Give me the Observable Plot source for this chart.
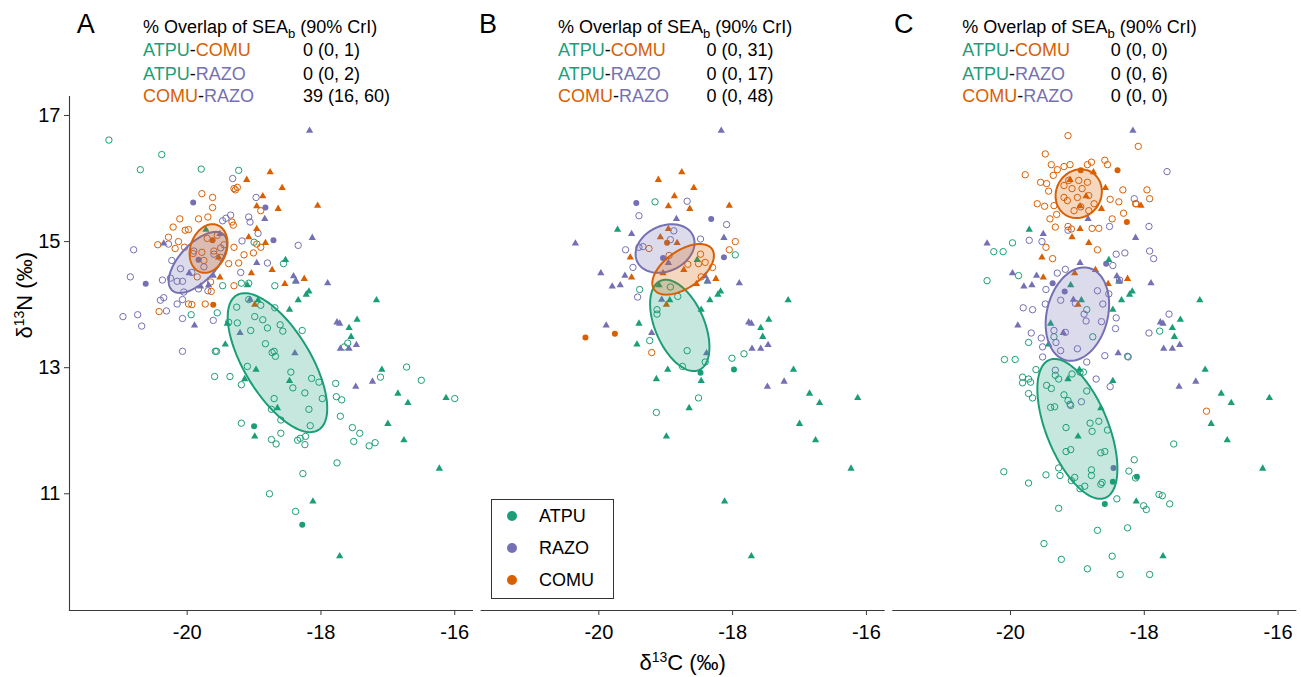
<!DOCTYPE html>
<html><head><meta charset="utf-8">
<script src="https://cdn.jsdelivr.net/npm/d3@7"></script>
<script src="https://cdn.jsdelivr.net/npm/@observablehq/plot@0.6"></script>
<style>
body{margin:0;background:#fff;}
#wrap{position:relative;width:1301px;height:677px;font-family:"Liberation Sans",Arial,Helvetica,sans-serif;}
#legend{position:absolute;left:490.5px;top:499px;width:123px;height:100px;border:1px solid #333;box-sizing:border-box;background:#fff;}
.lg-dot{position:absolute;width:10px;height:10px;border-radius:50%;}
.lg-lab{position:absolute;font-size:18px;line-height:18px;color:#000;}
</style></head><body><div id="wrap"></div>
<script>
// ---------- categories ----------
const panels = ["A", "B", "C"];
const species = ["ATPU", "RAZO", "COMU"];
const speciesColors = ["#1b9e77", "#7570b3", "#d95f02"];

// ---------- overlap annotation ----------
const overlapPairs = ["ATPU-COMU", "ATPU-RAZO", "COMU-RAZO"];
const overlapA = ["0 (0, 1)", "0 (0, 2)", "39 (16, 60)"];
const overlapB = ["0 (0, 31)", "0 (0, 17)", "0 (0, 48)"];
const overlapC = ["0 (0, 0)", "0 (0, 6)", "0 (0, 0)"];
const overlapHeader = "% Overlap of SEAb (90% CrI)";

// ---------- axis ticks ----------
const xTicks = [-20, -18, -16];
const yTicks = [17, 15, 13, 11];
const xTitle = "δ13C (‰)";
const yTitle = "δ13N (‰)";

// ---------- triangles (same in every panel) ----------
const triATPU = [[-19.72,15.19],[-19.40,13.70],[-19.43,13.37],[-19.10,14.31],[-18.53,14.71],[-18.38,14.37],[-18.18,14.21],[-18.22,14.16],[-18.34,14.07],[-18.47,13.92],[-17.17,14.07],[-17.46,13.76],[-17.58,13.63],[-17.55,13.49],[-18.94,14.07],[-18.97,12.97],[-19.14,12.82],[-18.47,12.79],[-17.09,12.97],[-16.85,12.59],[-16.70,12.44],[-16.13,12.52],[-18.65,12.36],[-17.00,12.11],[-16.76,11.85],[-18.99,11.91],[-16.23,11.40],[-18.12,10.88],[-17.72,10.01]];
const triRAZO = [[-18.17,16.76],[-18.84,15.36],[-19.51,15.12],[-20.35,14.97],[-18.13,15.06],[-19.97,14.50],[-19.61,14.46],[-19.80,14.29],[-19.68,14.31],[-17.90,14.34],[-18.41,14.45],[-18.37,14.37],[-18.96,14.66],[-19.06,14.08],[-19.89,13.67],[-19.21,13.55],[-17.76,13.72],[-17.72,13.70],[-17.71,13.30],[-17.58,13.30],[-17.47,13.36],[-18.39,13.23],[-17.48,12.70],[-17.23,12.78]];
const triCOMU = [[-18.76,16.10],[-19.11,15.98],[-18.58,15.85],[-18.87,15.72],[-18.96,15.56],[-18.64,15.52],[-18.05,15.57],[-18.96,15.20],[-19.08,15.07],[-18.83,14.98],[-19.53,14.75],[-19.04,14.50],[-18.73,14.55],[-19.51,14.43],[-18.25,14.41],[-18.54,14.33],[-18.99,14.00]];

// ---------- filled circles ----------
const fillA_ATPU = [[-19.00,12.07],[-18.28,10.51]];
const fillA_RAZO = [[-19.91,15.62],[-18.83,15.54],[-18.71,15.02],[-20.62,14.33],[-19.83,14.71]];
const fillA_COMU = [[-19.62,15.02],[-19.61,14.00]];
const fillB_ATPU = [[-18.48,12.92],[-17.98,12.97]];
const fillB_RAZO = [[-19.44,15.61],[-18.32,15.36],[-18.13,14.75],[-19.04,14.74]];
const fillB_COMU = [[-18.98,14.98],[-20.20,13.48],[-19.76,13.54]];
const fillC_ATPU = [[-18.47,11.19],[-18.11,11.27],[-18.59,10.84]];
const fillC_RAZO = [[-18.57,14.65],[-19.37,14.34],[-19.19,14.21],[-18.46,11.41]];
const fillC_COMU = [[-18.40,16.13],[-18.26,15.31],[-18.95,16.13]];

// ---------- open circles ----------
const openA_ATPU = [[-21.17,16.61],[-20.38,16.38],[-20.70,16.14],[-19.79,16.15],[-19.23,16.13],[-19.00,14.99],[-18.56,14.65],[-19.47,14.30],[-19.19,14.34],[-19.08,14.34],[-18.69,14.30],[-19.94,13.84],[-19.55,13.87],[-19.26,13.96],[-19.08,14.08],[-18.90,13.99],[-18.69,13.95],[-18.99,13.81],[-18.87,13.76],[-19.25,13.71],[-19.38,13.72],[-19.05,13.59],[-18.80,13.63],[-18.61,13.68],[-18.57,13.58],[-18.28,13.59],[-19.58,13.26],[-19.56,13.26],[-18.73,13.24],[-18.68,13.18],[-18.70,13.26],[-17.65,13.33],[-17.60,13.39],[-18.83,13.38],[-19.10,13.02],[-19.59,12.86],[-19.36,12.86],[-19.19,12.73],[-18.45,12.93],[-18.42,12.68],[-18.24,12.60],[-18.14,12.83],[-18.03,12.77],[-17.98,12.51],[-18.70,12.51],[-18.74,12.34],[-18.18,12.34],[-18.60,12.17],[-18.16,12.08],[-19.19,12.12],[-18.60,11.96],[-18.74,11.86],[-18.67,11.79],[-18.35,11.85],[-18.31,11.88],[-18.23,11.91],[-18.24,11.78],[-17.78,12.75],[-17.77,12.54],[-17.69,12.49],[-17.71,12.23],[-17.53,12.05],[-17.42,11.96],[-17.51,11.83],[-17.28,11.76],[-17.19,11.81],[-17.11,12.85],[-16.72,13.01],[-16.50,12.80],[-16.00,12.51],[-17.76,11.49],[-18.27,11.32],[-18.77,11.00],[-18.38,10.72]];
const openA_RAZO = [[-19.32,16.00],[-18.97,15.70],[-19.35,15.42],[-19.42,15.37],[-19.47,15.33],[-19.08,15.39],[-19.06,15.31],[-18.94,15.13],[-19.18,15.01],[-18.34,14.94],[-18.80,14.66],[-19.20,14.51],[-20.80,14.87],[-20.85,14.44],[-20.37,14.39],[-20.40,14.07],[-20.35,14.11],[-20.15,14.01],[-20.31,13.90],[-20.07,14.08],[-20.96,13.81],[-20.74,13.84],[-20.68,13.66],[-20.07,13.78],[-19.61,13.75],[-20.07,13.26],[-20.28,14.96],[-20.23,14.70],[-20.25,14.42],[-20.15,14.37],[-20.07,14.37],[-20.10,14.57],[-19.93,14.51],[-19.83,14.25],[-19.69,14.22],[-19.75,14.60],[-19.60,14.80],[-19.50,14.90],[-19.90,14.85],[-20.05,14.20]];
const openA_COMU = [[-19.78,15.76],[-19.62,15.70],[-19.62,15.54],[-19.30,15.84],[-19.25,15.86],[-19.28,15.82],[-18.90,15.49],[-20.11,15.36],[-19.83,15.36],[-19.69,15.39],[-20.21,15.23],[-20.03,15.18],[-19.98,15.19],[-20.28,15.07],[-20.44,14.95],[-20.13,15.00],[-20.18,14.89],[-20.04,14.91],[-19.33,15.31],[-19.31,15.26],[-19.30,14.91],[-19.38,14.65],[-19.23,14.66],[-19.15,14.79],[-19.01,14.82],[-18.90,14.91],[-18.96,14.96],[-19.91,14.81],[-19.78,14.83],[-19.85,14.44],[-19.65,14.36],[-19.98,14.01],[-19.93,14.00],[-19.73,14.01],[-20.42,13.89],[-19.64,14.21],[-19.30,14.30],[-19.70,15.05],[-19.55,15.10],[-19.60,14.85],[-19.45,14.95],[-19.75,14.70],[-19.50,14.75]];
const openB_ATPU = [[-19.16,15.63],[-17.96,14.79],[-19.39,14.24],[-18.82,14.13],[-19.13,13.92],[-19.13,13.85],[-18.93,14.28],[-18.68,13.27],[-19.24,13.43],[-18.01,13.15],[-17.83,13.22],[-18.75,13.02],[-18.41,13.09],[-18.51,12.52],[-19.14,12.29]];
const openB_RAZO = [[-18.68,15.64],[-19.40,15.41],[-18.09,15.27],[-18.48,15.04],[-18.93,15.03],[-18.88,15.17],[-19.60,14.87],[-19.40,14.91],[-19.34,14.92],[-19.49,14.59],[-19.42,14.12]];
const openB_COMU = [[-19.25,14.89],[-17.96,15.00],[-18.05,14.87],[-18.48,14.80],[-18.41,14.67],[-18.51,14.65],[-18.67,14.64],[-18.30,14.59],[-18.47,14.44],[-18.95,14.78],[-19.21,13.24]];
const openC_ATPU = [[-19.97,14.98],[-20.25,14.84],[-20.11,14.84],[-19.88,14.46],[-20.35,14.38],[-18.86,13.92],[-17.77,13.58],[-19.73,13.40],[-19.35,13.49],[-18.77,13.49],[-20.09,13.13],[-19.93,13.13],[-18.25,13.18],[-19.62,12.97],[-19.82,12.85],[-19.73,12.82],[-19.70,12.77],[-19.82,12.76],[-19.73,12.59],[-19.67,12.52],[-19.46,12.72],[-19.39,12.67],[-19.20,12.57],[-19.14,12.48],[-19.11,12.42],[-19.40,12.37],[-19.34,12.38],[-19.33,12.88],[-19.28,12.82],[-19.08,12.90],[-18.96,12.93],[-18.91,12.93],[-18.86,12.63],[-19.17,12.05],[-18.81,12.12],[-18.78,11.99],[-18.68,12.15],[-18.55,12.01],[-19.17,11.67],[-19.10,11.70],[-18.65,11.65],[-18.59,11.67],[-20.10,11.35],[-19.47,11.30],[-19.73,11.17],[-19.28,11.41],[-19.26,11.29],[-19.09,11.21],[-19.04,11.26],[-18.96,11.08],[-18.89,11.12],[-18.79,11.38],[-18.79,11.29],[-18.65,11.15],[-18.63,11.18],[-18.15,11.54],[-18.23,11.36],[-18.13,11.25],[-18.41,10.92],[-17.78,10.99],[-17.73,10.97],[-17.62,10.84],[-18.01,10.81],[-17.97,10.75],[-17.56,11.79],[-19.28,10.77],[-18.70,10.42],[-18.25,10.46],[-19.50,10.21],[-19.24,9.96],[-18.48,10.01],[-18.85,9.81],[-18.36,9.72],[-17.92,9.72]];
const openC_RAZO = [[-17.66,16.11],[-18.15,15.68],[-18.12,15.60],[-17.93,15.24],[-18.52,15.24],[-19.14,15.18],[-19.72,15.02],[-19.53,15.00],[-18.42,14.80],[-18.29,14.82],[-17.92,14.85],[-17.86,14.73],[-18.47,14.62],[-19.30,14.50],[-19.18,14.56],[-18.37,14.39],[-19.47,14.24],[-19.48,14.01],[-19.81,13.95],[-19.67,13.92],[-19.69,13.55],[-19.54,13.47],[-19.52,13.33],[-19.52,13.17],[-19.25,14.07],[-19.03,14.02],[-18.90,13.85],[-18.87,13.74],[-18.64,13.73],[-18.62,14.01],[-18.70,14.22],[-18.53,14.17],[-18.42,13.79],[-18.43,13.62],[-18.24,13.17],[-18.59,13.19],[-17.93,13.55],[-17.63,13.85],[-19.18,13.56],[-19.00,13.30],[-19.32,13.40],[-19.25,13.27],[-19.35,13.59],[-18.86,13.09],[-18.72,12.82],[-18.51,12.70],[-18.94,12.46],[-19.10,12.40],[-19.33,12.96]];
const openC_COMU = [[-19.14,16.68],[-18.09,16.51],[-19.48,16.39],[-19.78,16.06],[-19.39,16.22],[-19.30,16.14],[-19.20,16.19],[-19.11,16.22],[-19.36,16.05],[-18.79,16.26],[-18.85,16.22],[-18.59,16.29],[-18.55,16.22],[-19.55,15.94],[-19.46,15.92],[-19.43,15.80],[-19.60,15.60],[-19.49,15.56],[-19.35,15.57],[-19.31,15.43],[-19.41,15.36],[-19.33,15.23],[-19.14,15.24],[-19.09,15.20],[-18.78,15.21],[-18.68,15.21],[-18.51,15.67],[-18.38,15.63],[-18.32,15.82],[-18.31,15.45],[-18.48,15.36],[-17.96,15.82],[-17.92,15.68],[-18.13,15.60],[-19.47,14.91],[-19.37,14.73],[-18.70,14.87],[-17.07,12.31],[-19.20,15.89],[-19.08,15.84],[-18.93,15.84],[-18.85,15.94],[-19.13,15.97],[-19.00,15.70],[-18.83,15.73],[-18.75,15.60],[-19.15,15.65],[-18.95,15.55],[-18.83,15.49],[-19.05,15.49],[-19.20,15.70],[-18.98,15.97]];

// ---------- standard ellipses: panel, species, centre x, centre y, semi-axis u (dx,dy), semi-axis v (dx,dy) ----------
const seaParams = [
  ["A","ATPU",-18.65,13.08, 0.612,-1.068, 0.423,0.273],
  ["A","RAZO",-19.84,14.67, 0.387, 0.441,-0.202,0.200],
  ["A","COMU",-19.68,14.89, 0.128, 0.373,-0.253,0.098],
  ["B","ATPU",-18.79,13.67, 0.287,-0.708, 0.338,0.152],
  ["B","RAZO",-19.01,14.89, 0.417, 0.206,-0.143,0.325],
  ["B","COMU",-18.74,14.56, 0.432, 0.321,-0.159,0.241],
  ["C","ATPU",-19.00,12.03, 0.417,-1.094, 0.429,0.184],
  ["C","RAZO",-19.00,13.85, 0.172, 0.731,-0.442,0.117],
  ["C","COMU",-18.98,15.76, 0.187, 0.343,-0.291,0.178]
];

// ---------- annotation placement (data-x per panel) ----------
const letterX = [-21.65, -21.79, -21.74];
const headerX = [-20.66, -20.61, -20.72];
const valueX = [-18.27, -18.39, -18.50];

// ---------- build tables ----------
const colorOf = Object.fromEntries(species.map((s, i) => [s, speciesColors[i]]));
const toRows = (arr, panel, sp) => arr.map(([x, y]) => ({panel, species: sp, x, y}));
const openPts = [
  ...toRows(openA_ATPU,"A","ATPU"), ...toRows(openA_RAZO,"A","RAZO"), ...toRows(openA_COMU,"A","COMU"),
  ...toRows(openB_ATPU,"B","ATPU"), ...toRows(openB_RAZO,"B","RAZO"), ...toRows(openB_COMU,"B","COMU"),
  ...toRows(openC_ATPU,"C","ATPU"), ...toRows(openC_RAZO,"C","RAZO"), ...toRows(openC_COMU,"C","COMU")
];
const filledPts = [
  ...toRows(fillA_ATPU,"A","ATPU"), ...toRows(fillA_RAZO,"A","RAZO"), ...toRows(fillA_COMU,"A","COMU"),
  ...toRows(fillB_ATPU,"B","ATPU"), ...toRows(fillB_RAZO,"B","RAZO"), ...toRows(fillB_COMU,"B","COMU"),
  ...toRows(fillC_ATPU,"C","ATPU"), ...toRows(fillC_RAZO,"C","RAZO"), ...toRows(fillC_COMU,"C","COMU")
];
const triPts = panels.flatMap(p => [...toRows(triATPU,p,"ATPU"), ...toRows(triRAZO,p,"RAZO"), ...toRows(triCOMU,p,"COMU")]);
const seaPts = seaParams.flatMap(([panel, sp, cx, cy, ux, uy, vx, vy]) =>
  d3.range(0, 121).map(k => {
    const t = 2 * Math.PI * k / 120;
    return {panel, species: sp, x: cx + ux * Math.cos(t) + vx * Math.sin(t), y: cy + uy * Math.cos(t) + vy * Math.sin(t)};
  }));
const overlapValues = {A: overlapA, B: overlapB, C: overlapC};
const annRows = panels.flatMap((p, i) => overlapPairs.map((pair, j) => ({panel: p, pi: i, row: j, pair, value: overlapValues[p][j]})));

const FONT = '"Liberation Sans", Arial, Helvetica, sans-serif';
const rowDy = [-41, -17, 5.7];

const marks = [
  Plot.dot(openPts, {x: "x", y: "y", fx: "panel", stroke: "species", fill: "none", r: 3.2, strokeWidth: 1}),
  Plot.dot(filledPts, {x: "x", y: "y", fx: "panel", fill: "species", r: 3}),
  Plot.dot(triPts, {x: "x", y: "y", fx: "panel", fill: "species", symbol: "triangle", r: 2.7}),
  ...species.map(sp => Plot.line(seaPts.filter(d => d.species === sp), {
    x: "x", y: "y", fx: "panel", z: "panel", fill: colorOf[sp], fillOpacity: 0.25,
    stroke: colorOf[sp], strokeWidth: 2, curve: "linear"
  })),
  Plot.frame({anchor: "bottom", stroke: "#3a3a3a", strokeWidth: 1.1}),
  Plot.frame({anchor: "left", stroke: "#3a3a3a", strokeWidth: 1.1, facetAnchor: "left"}),
  Plot.axisX({ticks: xTicks, tickFormat: d => String(d), tickSize: 5, tickPadding: 9, fontSize: 20, stroke: "#3a3a3a", label: null}),
  Plot.axisY({ticks: yTicks, tickFormat: d => String(d), tickSize: 5, tickPadding: 4, fontSize: 20, stroke: "#3a3a3a", label: null}),
  // panel letters
  Plot.text(panels, {fx: d => d, x: (d, i) => letterX[i], text: d => d, frameAnchor: "top", dy: -64, lineAnchor: "bottom", textAnchor: "start", fontSize: 27, fill: "#000"}),
  // header
  Plot.text(panels, {fx: d => d, x: (d, i) => headerX[i], text: () => overlapHeader, frameAnchor: "top", dy: -64, lineAnchor: "bottom", textAnchor: "start", fontSize: 18, fill: "#000"}),
  // rows
  ...[0, 1, 2].flatMap(j => [
    Plot.text(annRows.filter(d => d.row === j), {fx: "panel", x: d => headerX[d.pi], text: "pair", frameAnchor: "top", dy: rowDy[j], lineAnchor: "bottom", textAnchor: "start", fontSize: 18, fill: "#000"}),
    Plot.text(annRows.filter(d => d.row === j), {fx: "panel", x: d => valueX[d.pi], text: "value", frameAnchor: "top", dy: rowDy[j], lineAnchor: "bottom", textAnchor: "start", fontSize: 18, fill: "#000"})
  ]),
  // axis titles
  Plot.text([xTitle], {fx: () => "B", text: d => d, frameAnchor: "bottom", dy: 59, lineAnchor: "bottom", fontSize: 22, fill: "#000"}),
  Plot.text([yTitle], {fx: () => "A", text: d => d, frameAnchor: "left", dx: -38, dy: -15, rotate: -90, lineAnchor: "bottom", fontSize: 22, fill: "#000"})
];

const chart = Plot.plot({
  width: 1301, height: 677,
  marginLeft: 69, marginRight: 5.7, marginTop: 96, marginBottom: 67,
  style: {fontFamily: FONT, fontSize: "18px", color: "#000", background: "#fff", overflow: "visible"},
  x: {domain: [-21.759, -15.735]},
  y: {domain: [9.149, 17.301]},
  fx: {domain: panels, paddingInner: 0.0211, paddingOuter: 0, axis: null, round: false, label: null},
  color: {domain: species, range: speciesColors},
  marks
});

// enforce tick label size
d3.select(chart).selectAll('g[aria-label="x-axis tick label"], g[aria-label="y-axis tick label"]')
  .attr("font-size", 20).style("font-size", "20px");

// rich text: coloured pair names, subscript/superscript
d3.select(chart).selectAll("text").each(function () {
  const s = this.textContent;
  const el = d3.select(this);
  if (overlapPairs.includes(s)) {
    const [a, b] = s.split("-");
    el.text(null);
    el.append("tspan").attr("fill", colorOf[a]).text(a);
    el.append("tspan").attr("fill", "#000").text("-");
    el.append("tspan").attr("fill", colorOf[b]).text(b);
  } else if (s === overlapHeader) {
    el.text(null);
    el.append("tspan").text("% Overlap of SEA");
    el.append("tspan").attr("font-size", "13px").attr("dy", 5).text("b");
    el.append("tspan").attr("dy", -5).text(" (90% CrI)");
  } else if (s === xTitle || s === yTitle) {
    const tail = s.slice(3);
    el.text(null);
    el.append("tspan").text("δ");
    el.append("tspan").attr("font-size", "14px").attr("dy", -8).text("13");
    el.append("tspan").attr("dy", 8).text(tail);
  }
});

const wrap = document.getElementById("wrap");
wrap.appendChild(chart);

// legend box (panel B)
const legend = document.createElement("div");
legend.id = "legend";
species.forEach((sp, i) => {
  const dot = document.createElement("div");
  dot.className = "lg-dot";
  dot.style.left = (21.6 - 5 - 1) + "px";
  dot.style.top = (17.4 + i * 31.6 - 5 - 1) + "px";
  dot.style.background = speciesColors[i];
  legend.appendChild(dot);
  const lab = document.createElement("div");
  lab.className = "lg-lab";
  lab.style.left = (48.6 - 1) + "px";
  lab.style.top = (17.4 + i * 31.6 - 9 - 1) + "px";
  lab.textContent = sp;
  legend.appendChild(lab);
});
wrap.appendChild(legend);
</script>
</body></html>
